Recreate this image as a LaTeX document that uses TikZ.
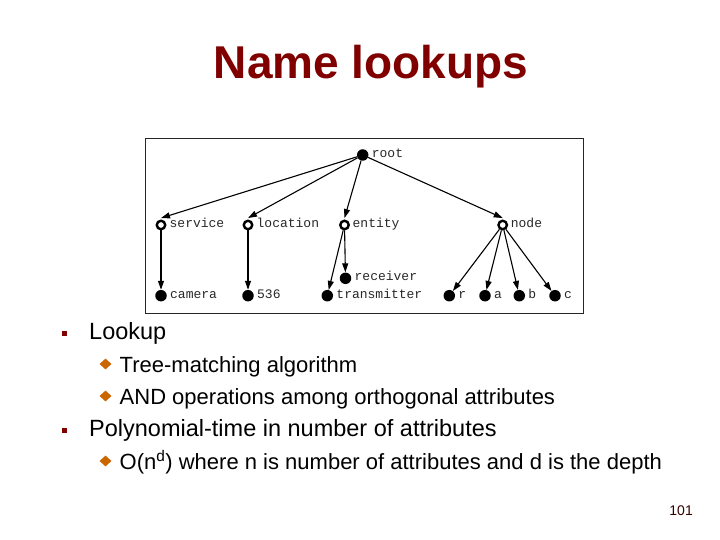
\documentclass[tikz,border=0pt]{standalone}
\usepackage{fontspec}
\setmainfont{Liberation Sans}
\newfontfamily\labmono{Liberation Mono}
\usetikzlibrary{arrows.meta,shapes.geometric}
\definecolor{titlered}{RGB}{128,0,0}
\definecolor{bulletred}{RGB}{128,0,0}
\definecolor{diamondor}{RGB}{204,102,0}
\definecolor{pagenum}{RGB}{51,0,0}
\definecolor{labgrey}{RGB}{40,40,40}
\begin{document}
\begin{tikzpicture}[x=1pt,y=-1pt,
  full/.style={circle, fill=black, inner sep=0pt, minimum size=11.5pt},
  hollow/.style={circle, draw=black, line width=2.4pt, fill=white, inner sep=0pt, minimum size=8.5pt},
  lab/.style={anchor=mid west, inner sep=0pt, text=labgrey, font=\labmono\fontsize{13}{15}\selectfont},
  edge/.style={line width=1.1pt, -{Triangle[length=9pt,width=6pt]}},
  frame/.style={draw=black!85, line width=1pt, inner sep=0pt, anchor=north west},
  sqbullet/.style={rectangle, fill=bulletred, inner sep=0pt, minimum size=5.5pt},
  diabullet/.style={diamond, fill=diamondor, inner sep=0pt, minimum width=12pt, minimum height=11pt},
  lvlone/.style={anchor=base west, inner sep=0pt, font=\fontsize{23.5}{28}\selectfont},
  lvltwo/.style={anchor=base west, inner sep=0pt, font=\fontsize{22}{26}\selectfont}
]
\useasboundingbox (0,0) rectangle (720,540);

% title
\node[anchor=base, inner sep=0pt, text=titlered, font=\bfseries\fontsize{46}{55}\selectfont] (title) at (371,79) {Name lookups};

% frame of the tree picture
\node[frame, minimum width=437.5pt, minimum height=174.5pt] (box) at (145,138) {};

% tree nodes
\node[full] (root) at (362.7,155) {};
\node[hollow] (service) at (161,225) {};
\node[hollow] (location) at (248,225) {};
\node[hollow] (entity) at (344.5,225) {};
\node[hollow] (nodeN) at (502.7,225) {};
\node[full] (camera) at (161,295.7) {};
\node[full] (loc536) at (248,295.7) {};
\node[full] (receiver) at (345.5,278.3) {};
\node[full] (transmitter) at (327.3,295.7) {};
\node[full] (r) at (449.3,295.7) {};
\node[full] (a) at (485,295.7) {};
\node[full] (b) at (519.3,295.7) {};
\node[full] (c) at (555,295.7) {};

% labels
\node[lab] (rootL) at ([xshift=3pt]root.east) {root};
\node[lab] (serviceL) at ([xshift=3pt]service.east) {service};
\node[lab] (locationL) at ([xshift=3pt]location.east) {location};
\node[lab] (entityL) at ([xshift=2.5pt]entity.east) {entity};
\node[lab] (nodeL) at ([xshift=2.5pt]nodeN.east) {node};
\node[lab] (cameraL) at ([xshift=3pt]camera.east) {camera};
\node[lab] (locL) at ([xshift=3pt]loc536.east) {536};
\node[lab] (receiverL) at ([xshift=3pt]receiver.east) {receiver};
\node[lab] (transmitterL) at ([xshift=3pt]transmitter.east) {transmitter};
\node[lab] (rL) at ([xshift=3pt]r.east) {r};
\node[lab] (aL) at ([xshift=3pt]a.east) {a};
\node[lab] (bL) at ([xshift=3pt]b.east) {b};
\node[lab] (cL) at ([xshift=3pt]c.east) {c};

% edges
\draw[edge] (root) -- ([yshift=1.5pt]service.north);
\draw[edge] (root) -- ([yshift=1.5pt]location.north);
\draw[edge] (root) -- ([yshift=1.5pt]entity.north);
\draw[edge] (root) -- ([yshift=1.5pt]nodeN.north);
\draw[edge] (service) -- (camera);
\draw[edge] (location) -- (loc536);
\draw[edge] (entity) -- (receiver);
\draw[edge] (entity) -- (transmitter);
\draw[edge] (nodeN) -- (r);
\draw[edge] (nodeN) -- (a);
\draw[edge] (nodeN) -- (b);
\draw[edge] (nodeN) -- (c);

% bullet list
\node[sqbullet] (bl1) at (64.5,333.5) {};
\node[lvlone] (t1) at (89,339) {Lookup};
\node[diabullet] (bl2) at (105.5,364) {};
\node[lvltwo] (t2) at (119.5,372) {Tree-matching algorithm};
\node[diabullet] (bl3) at (105.5,396) {};
\node[lvltwo] (t3) at (119.5,404) {AND operations among orthogonal attributes};
\node[sqbullet] (bl4) at (64.5,430.5) {};
\node[lvlone] (t4) at (89,436) {Polynomial-time in number of attributes};
\node[diabullet] (bl5) at (105.5,461) {};
\node[lvltwo] (t5) at (119.5,469) {O(n\textsuperscript{d}) where n is number of attributes and d is the depth};

% page number
\node[anchor=base east, inner sep=0pt, text=pagenum, font=\fontsize{14}{16}\selectfont] (pnum) at (693,515) {101};
\end{tikzpicture}
\end{document}
